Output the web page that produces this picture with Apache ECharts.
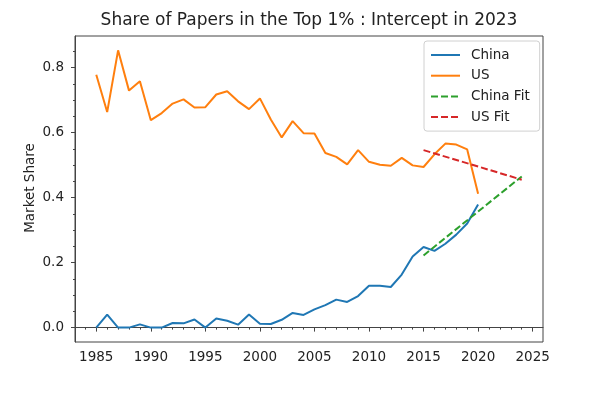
<!DOCTYPE html>
<html>
<head>
<meta charset="utf-8">
<script src="https://cdn.jsdelivr.net/npm/echarts@6/dist/echarts.min.js"></script>
<style>html,body{margin:0;padding:0;background:#fff;}#c{width:600px;height:393px;}</style>
</head>
<body>
<div id="c"></div>
<script>
var years = [1985,1986,1987,1988,1989,1990,1991,1992,1993,1994,1995,1996,1997,1998,1999,2000,2001,2002,2003,2004,2005,2006,2007,2008,2009,2010,2011,2012,2013,2014,2015,2016,2017,2018,2019,2020];
var china = [0.000,0.040,0.000,0.000,0.010,0.000,0.000,0.014,0.013,0.025,0.000,0.028,0.021,0.009,0.040,0.012,0.011,0.024,0.045,0.039,0.056,0.069,0.086,0.079,0.097,0.129,0.129,0.125,0.163,0.219,0.248,0.236,0.258,0.286,0.320,0.379];
var us = [0.778,0.663,0.853,0.729,0.758,0.638,0.660,0.689,0.702,0.677,0.678,0.717,0.727,0.696,0.672,0.705,0.640,0.585,0.635,0.598,0.597,0.537,0.525,0.502,0.546,0.510,0.501,0.498,0.522,0.499,0.494,0.533,0.566,0.563,0.548,0.412];
var fitYears = [2015, 2024];
var chinaFit = [0.222, 0.465];
var usFit = [0.546, 0.455];
var xTicks = [1985,1990,1995,2000,2005,2010,2015,2020,2025];
var xMinorTicks = [1984,1986,1987,1988,1989,1991,1992,1993,1994,1996,1997,1998,1999,2001,2002,2003,2004,2006,2007,2008,2009,2011,2012,2013,2014,2016,2017,2018,2019,2021,2022,2023,2024];
var yTicks = [0.0,0.2,0.4,0.6,0.8];
var yMinorTicks = [0.05,0.1,0.15,0.25,0.3,0.35,0.45,0.5,0.55,0.65,0.7,0.75,0.85];
var titleText = 'Share of Papers in the Top 1% : Intercept in 2023';
var yName = 'Market Share';

function pairs(xs, ys){ return xs.map(function(x,i){ return [x, ys[i]]; }); }

var font = 'DejaVu Sans';
var xMin = 1983.05, xMax = 2025.95, yMin = -0.0443, yMax = 0.897;
var chart = echarts.init(document.getElementById('c'), null, {renderer:'canvas'});
chart.setOption({
  animation: false,
  backgroundColor: '#fff',
  title: {
    text: titleText, left: 309, top: 12, textAlign: 'center', padding: 0,
    textStyle: {fontFamily: font, fontSize: 17, fontWeight: 'normal', color: '#222'}
  },
  graphic: [{
    type: 'text', x: 30, y: 188, rotation: Math.PI / 2,
    style: {text: yName, textAlign: 'center', textVerticalAlign: 'middle', fontFamily: font, fontSize: 13.5, fill: '#222'}
  }],
  grid: {left: 75, right: 57, top: 36, bottom: 51, show: true, borderColor: '#444', borderWidth: 1, backgroundColor: 'transparent'},
  legend: {
    orient: 'vertical', left: 424, top: 41,
    padding: [7, 10, 7, 6], itemGap: 6.7, itemWidth: 29, itemHeight: 14,
    borderColor: '#d0d0d0', borderWidth: 1, borderRadius: 3, backgroundColor: '#fff',
    itemStyle: {opacity: 0},
    textStyle: {fontFamily: font, fontSize: 13.5, color: '#222', padding: [0,0,0,6]},
    data: ['China','US','China Fit','US Fit']
  },
  xAxis: [{
    type: 'value', min: xMin, max: xMax, gridIndex: 0, position: 'bottom',
    splitLine: {show: false},
    axisLine: {show: true, lineStyle: {color: '#444', width: 1}},
    axisTick: {show: true, customValues: xTicks, length: 4, lineStyle: {color: '#444'}},
    axisLabel: {customValues: xTicks, margin: 8, fontFamily: font, fontSize: 13.5, color: '#222', formatter: function(v){return String(Math.round(v));}}
  },{
    type: 'value', min: xMin, max: xMax, gridIndex: 0, position: 'bottom',
    splitLine: {show: false}, axisLine: {show: false},
    axisTick: {show: true, customValues: xMinorTicks, length: 2, lineStyle: {color: '#444'}},
    axisLabel: {show: false}
  }],
  yAxis: [{
    type: 'value', min: yMin, max: yMax, gridIndex: 0, position: 'left',
    splitLine: {show: false},
    axisLine: {show: true, lineStyle: {color: '#444', width: 1}},
    axisTick: {show: true, customValues: yTicks, length: 4, lineStyle: {color: '#444'}},
    axisLabel: {customValues: yTicks, margin: 11, fontFamily: font, fontSize: 13.5, color: '#222', formatter: function(v){return v.toFixed(1);}}
  },{
    type: 'value', min: yMin, max: yMax, gridIndex: 0, position: 'left',
    splitLine: {show: false}, axisLine: {show: false},
    axisTick: {show: true, customValues: yMinorTicks, length: 2, lineStyle: {color: '#444'}},
    axisLabel: {show: false}
  }],
  series: [
    {name: 'China', type: 'line', data: pairs(years, china), showSymbol: false, symbol: 'none', color: '#1f77b4', lineStyle: {width: 2, color: '#1f77b4'}, z: 3},
    {name: 'US', type: 'line', data: pairs(years, us), showSymbol: false, symbol: 'none', color: '#ff7f0e', lineStyle: {width: 2, color: '#ff7f0e'}, z: 3},
    {name: 'China Fit', type: 'line', data: pairs(fitYears, chinaFit), showSymbol: false, symbol: 'none', color: '#2ca02c', lineStyle: {width: 2, color: '#2ca02c', type: [7,3]}, z: 4},
    {name: 'US Fit', type: 'line', data: pairs(fitYears, usFit), showSymbol: false, symbol: 'none', color: '#d62728', lineStyle: {width: 2, color: '#d62728', type: [7,3]}, z: 4}
  ]
});
</script>
</body>
</html>
